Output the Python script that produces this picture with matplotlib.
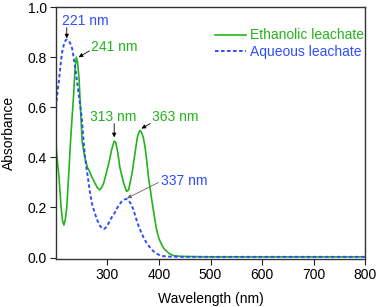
import matplotlib
matplotlib.use('Agg')
import matplotlib.pyplot as plt

plt.rcParams['font.family'] = ['Liberation Sans', 'DejaVu Sans']

# Ethanolic leachate spectrum (wavelength nm, absorbance)
eth_wl = [200, 203, 206, 210, 213, 215.5, 218, 221, 225, 228.5, 231, 234, 237, 239.5,
          242, 245, 248, 251, 256, 261, 265, 270, 275, 280, 285, 289, 293, 298, 303,
          308, 313, 316, 320, 324, 331, 337, 341, 344, 348, 351.5, 355, 358, 361, 363,
          366, 369.5, 373, 376, 379, 382.5, 386, 389, 392, 395.5, 400, 405, 410, 415,
          420, 428, 441, 460, 500, 600, 700, 800]
eth_abs = [0.45, 0.38, 0.32, 0.20, 0.145, 0.13, 0.15, 0.20, 0.34, 0.47, 0.55, 0.64, 0.75, 0.80,
           0.78, 0.71, 0.58, 0.46, 0.40, 0.36, 0.345, 0.32, 0.30, 0.28, 0.27, 0.28, 0.30, 0.34, 0.38,
           0.43, 0.465, 0.46, 0.42, 0.36, 0.30, 0.264, 0.27, 0.30, 0.34, 0.39, 0.44, 0.48, 0.50, 0.507,
           0.50, 0.48, 0.44, 0.39, 0.33, 0.28, 0.23, 0.19, 0.15, 0.11, 0.075, 0.052, 0.035, 0.025,
           0.016, 0.008, 0.005, 0.004, 0.003, 0.003, 0.003, 0.003]

# Aqueous leachate spectrum
aq_wl = [200, 203, 206, 209, 212, 216, 219, 222, 225, 229, 232, 235, 238, 241, 245, 250,
         253, 256, 259, 262, 266, 270, 275, 280, 285, 290, 293, 297, 303, 308, 313, 318,
         323, 328, 333, 337, 341, 347, 352, 356.5, 361, 366, 371, 376, 381, 386, 390, 395,
         401, 408, 420, 450, 500, 600, 700, 800]
aq_abs = [0.60, 0.66, 0.71, 0.77, 0.82, 0.855, 0.868, 0.87, 0.865, 0.85, 0.83, 0.79, 0.75, 0.70,
          0.64, 0.56, 0.48, 0.41, 0.36, 0.32, 0.26, 0.215, 0.18, 0.15, 0.128, 0.116, 0.114, 0.12,
          0.14, 0.16, 0.175, 0.195, 0.212, 0.225, 0.232, 0.234, 0.228, 0.21, 0.18, 0.15, 0.122,
          0.098, 0.076, 0.058, 0.044, 0.032, 0.024, 0.016, 0.01, 0.006, 0.004, 0.003, 0.003,
          0.003, 0.003, 0.003]

green = '#22b41a'
blue = '#2f4cff'
fs = 10

fig = plt.figure(figsize=(3.78, 3.07), dpi=100)
ax = fig.add_axes([0.148, 0.156, 0.818, 0.821])

ax.plot(eth_wl, eth_abs, color=green, lw=1.2, label='Ethanolic leachate')
ax.plot(aq_wl, aq_abs, color=blue, lw=1.4, dashes=(1.8, 1.3), label='Aqueous leachate')

ax.set_xlim(200, 800)
ax.set_ylim(-0.006, 1.0)
ax.set_xticks([300, 400, 500, 600, 700, 800])
ax.set_yticks([0.0, 0.2, 0.4, 0.6, 0.8, 1.0])
ax.set_yticklabels(['0.0', '0.2', '0.4', '0.6', '0.8', '1.0'])
ax.tick_params(labelsize=fs, length=4, width=0.8, colors='#222222', labelcolor='black', pad=2.5)
for s in ax.spines.values():
    s.set_linewidth(1.0)
    s.set_color('#333333')

ax.set_xlabel('Wavelength (nm)', fontsize=fs, labelpad=7)
ax.set_ylabel('Absorbance', fontsize=fs, labelpad=8)

# peak labels
arr = dict(arrowstyle='-|>', color='black', lw=0.6, mutation_scale=6, shrinkA=0, shrinkB=0)
ax.text(212, 0.944, '221 nm', color=blue, fontsize=fs, va='center')
ax.annotate('', xy=(221, 0.875), xytext=(221, 0.918), arrowprops=arr)
ax.text(268, 0.84, '241 nm', color=green, fontsize=fs, va='center')
ax.annotate('', xy=(244, 0.80), xytext=(265, 0.825), arrowprops=arr)
ax.text(266, 0.56, '313 nm', color=green, fontsize=fs, va='center')
ax.annotate('', xy=(313, 0.48), xytext=(313, 0.535), arrowprops=arr)
ax.text(386, 0.56, '363 nm', color=green, fontsize=fs, va='center')
ax.annotate('', xy=(366, 0.515), xytext=(383, 0.535), arrowprops=arr)
ax.text(404, 0.307, '337 nm', color=blue, fontsize=fs, va='center')
ax.annotate('', xy=(338, 0.237), xytext=(399, 0.30),
            arrowprops=dict(arrowstyle='-|>', color='#666666', lw=0.6, mutation_scale=6,
                            shrinkA=0, shrinkB=0))

ax.legend(loc='upper right', bbox_to_anchor=(1.037, 0.965), frameon=False, fontsize=fs,
          handlelength=2.2, handletextpad=0.3, labelspacing=0.2, labelcolor='linecolor')

fig.savefig('out.png', dpi=100)
